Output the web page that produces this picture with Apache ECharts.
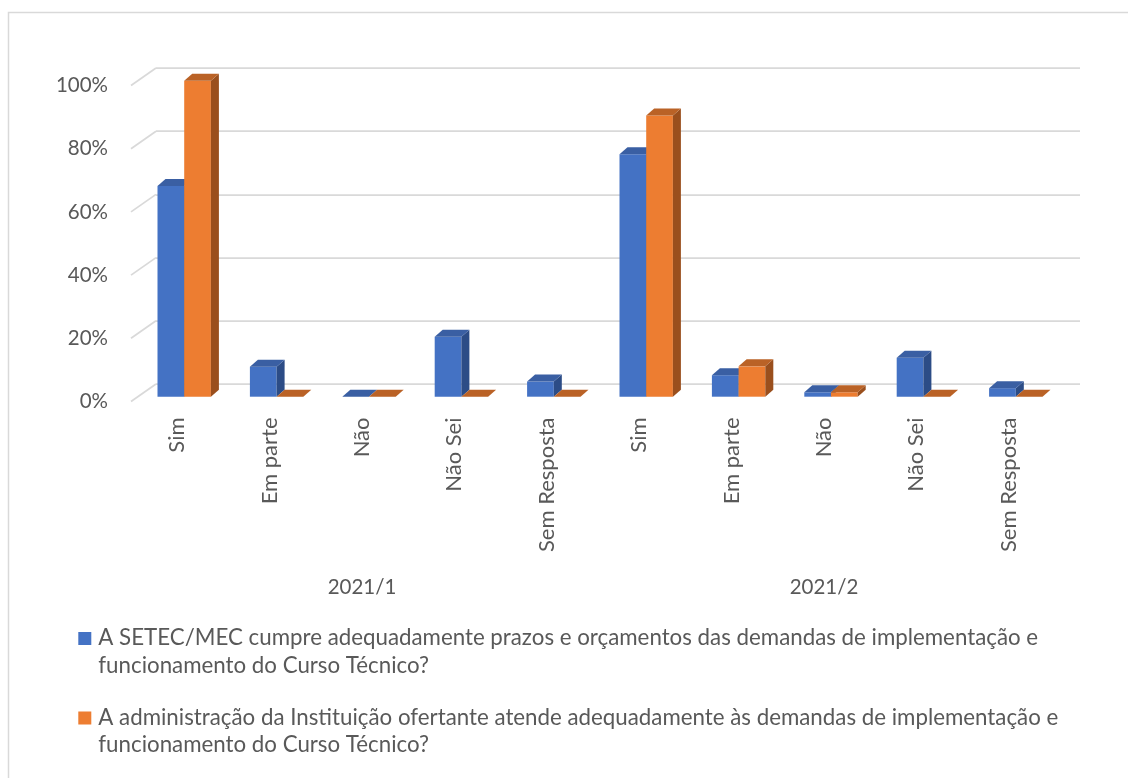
<!DOCTYPE html>
<html>
<head>
<meta charset="utf-8">
<script src="https://cdn.jsdelivr.net/npm/echarts/dist/echarts.min.js"></script>
<style>
html,body{margin:0;padding:0;background:#fff;}
#chart{width:1128px;height:778px;}
</style>
</head>
<body>
<div id="chart"></div>
<script>
// ---- data ----
const categories = ['Sim','Em parte','Não','Não Sei','Sem Resposta','Sim','Em parte','Não','Não Sei','Sem Resposta'];
const groups = ['2021/1','2021/2'];
const seriesNames = [
  'A SETEC/MEC cumpre adequadamente prazos e orçamentos das demandas de implementação e funcionamento do Curso Técnico?',
  'A administração da Instituição ofertante atende adequadamente às demandas de implementação e funcionamento do Curso Técnico?'
];
const setecValues = [0.667, 0.095, 0.0, 0.190, 0.048, 0.767, 0.068, 0.014, 0.123, 0.027];
const adminValues = [1.0, 0.0, 0.0, 0.0, 0.0, 0.890, 0.096, 0.014, 0.0, 0.0];
const yTicks = [0, 0.2, 0.4, 0.6, 0.8, 1.0];

// ---- styles ----
const TXT = '#595959';
const FONT = 'Lato';
const GRIDC = '#d9d9d9';
const faces = [
  {front:'#4472C4', top:'#3A5FA3', side:'#2C4C86'},
  {front:'#ED7D31', top:'#BA6226', side:'#9A4F1D'}
];
const DX = 8, DY = -7; // bar depth
const WALL_DX = 25, WALL_DY = -17.5;

function barRender(sIdx){
  return function(params, api){
    const cat = api.value(0), val = api.value(1);
    const top = api.coord([cat, val]);
    const base = api.coord([cat, 0]);
    const bw = api.size([1,0])[0];
    const w = bw * 0.289;
    const x0 = base[0] - w + sIdx * w;
    const x1 = x0 + w;
    const yt = top[1], yb = base[1];
    const f = faces[sIdx];
    return {
      type:'group',
      children:[
        {type:'rect', shape:{x:x0, y:yt, width:w, height:yb-yt}, style:{fill:f.front}},
        {type:'polygon', shape:{points:[[x1,yt],[x1+DX,yt+DY],[x1+DX,yb+DY],[x1,yb]]}, style:{fill:f.side}},
        {type:'polygon', shape:{points:[[x0,yt],[x0+DX,yt+DY],[x1+DX,yt+DY],[x1,yt]]}, style:{fill:f.top}}
      ]
    };
  };
}

const chart = echarts.init(document.getElementById('chart'), null, {renderer:'canvas'});
chart.setOption({
  animation:false,
  backgroundColor:'#fff',
  graphic:[{type:'rect', shape:{x:8.5, y:12.5, width:1300, height:900}, style:{fill:'none', stroke:GRIDC, lineWidth:1.5}, z:-10}],
  grid:[
    {left:156, top:68, width:924, height:316},
    {left:131, top:85.5, width:924, height:316},
    {left:138, top:80.7, width:924, height:316}
  ],
  xAxis:[
    {gridIndex:0, type:'category', data:categories, show:false},
    {gridIndex:1, type:'category', data:categories,
      axisLine:{show:false}, axisTick:{show:false},
      axisLabel:{interval:0, rotate:90, margin:16, color:TXT, fontFamily:FONT, fontSize:22}},
    {gridIndex:1, type:'category', data:groups, position:'bottom', offset:167,
      axisLine:{show:false}, axisTick:{show:false},
      axisLabel:{interval:0, margin:8, color:TXT, fontFamily:FONT, fontSize:20.5}},
    {gridIndex:2, type:'category', data:categories, show:false}
  ],
  yAxis:[
    {gridIndex:0, type:'value', min:0, max:1, interval:0.2,
      axisLabel:{show:false}, axisLine:{show:false}, axisTick:{show:false},
      splitLine:{show:true, lineStyle:{color:GRIDC, width:1.75}}},
    {gridIndex:1, type:'value', min:0, max:1, interval:0.2,
      axisLine:{show:false}, axisTick:{show:false}, splitLine:{show:false},
      axisLabel:{margin:23, color:TXT, fontFamily:FONT, fontSize:20.5,
        formatter:v => Math.round(v*100) + '%'}},
    {gridIndex:2, type:'value', min:0, max:1, show:false, splitLine:{show:false}}
  ],
  legend:{
    orient:'vertical', left:73.3, top:619.5, padding:[5,5,5,5],
    itemWidth:15, itemHeight:55, itemGap:24.5,
    icon:'path://M0,7.5h13v13h-13zM0,0L0.01,0M15,55L14.99,55',
    textStyle:{color:TXT, fontFamily:FONT, fontSize:22.3, lineHeight:27.5},
    formatter:name => name.replace(' e funcionamento', ' e\nfuncionamento'),
    data:seriesNames,
    selectedMode:false
  },
  series:[
    {type:'custom', xAxisIndex:1, yAxisIndex:1, silent:true, z:1,
      data:yTicks.map(v => [0, v]),
      renderItem:function(params, api){
        const p = api.coord([0, api.value(1)]);
        const bw = api.size([1,0])[0];
        const x = p[0] - bw/2;
        return {type:'line', shape:{x1:x, y1:p[1], x2:x+WALL_DX, y2:p[1]+WALL_DY},
          style:{stroke:GRIDC, lineWidth:1.75}};
      }},
    {type:'custom', name:seriesNames[0], xAxisIndex:3, yAxisIndex:2, z:2,
      itemStyle:{color:faces[0].front},
      data:setecValues.map((v,i) => [i, v]), renderItem:barRender(0)},
    {type:'custom', name:seriesNames[1], xAxisIndex:3, yAxisIndex:2, z:3,
      itemStyle:{color:faces[1].front},
      data:adminValues.map((v,i) => [i, v]), renderItem:barRender(1)}
  ]
});
</script>
</body>
</html>
